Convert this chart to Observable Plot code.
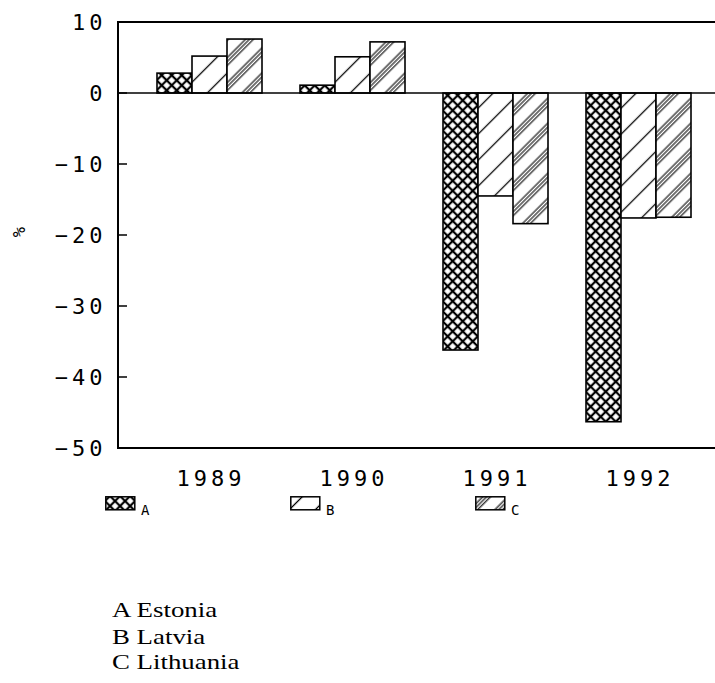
<!DOCTYPE html>
<html><head><meta charset="utf-8">
<script src="https://cdn.jsdelivr.net/npm/d3@7"></script>
<script src="https://cdn.jsdelivr.net/npm/@observablehq/plot@0.6"></script>
<style>
html,body{margin:0;padding:0;background:#fff;}
#wrap{position:relative;width:715px;height:683px;overflow:hidden;background:#fff;}
#chart{position:absolute;left:0;top:0;}
.ylab{position:absolute;left:9px;top:222px;font:17px "DejaVu Sans Mono",monospace;transform:rotate(-90deg);transform-origin:center;width:20px;text-align:center;}
.leg{position:absolute;top:496px;height:24px;}
.leg svg{position:absolute;left:0;top:0;}
.leg span{position:absolute;left:36px;top:6px;font:14px "DejaVu Sans Mono",monospace;}
.note{position:absolute;left:112px;font:22px "Liberation Serif","Times New Roman",serif;transform:scaleX(1.22);transform-origin:left;white-space:nowrap;line-height:1;}
</style></head><body>
<svg width="0" height="0" style="position:absolute">
<defs>
<pattern id="patA" patternUnits="userSpaceOnUse" width="7.1" height="7.1" patternTransform="rotate(45)">
<rect width="7.1" height="7.1" fill="#fff"/>
<path d="M3.55,0V7.1M0,3.55H7.1" stroke="#000" stroke-width="2.2"/>
</pattern>
<pattern id="patB" patternUnits="userSpaceOnUse" width="18.4" height="18.4" patternTransform="rotate(45)">
<rect width="18.4" height="18.4" fill="#fff"/>
<path d="M9.2,0V18.4" stroke="#000" stroke-width="1.3"/>
</pattern>
<pattern id="patC" patternUnits="userSpaceOnUse" width="17.7" height="17.7" patternTransform="rotate(45)">
<rect width="17.7" height="17.7" fill="#fff"/>
<path d="M6,0V17.7M8.8,0V17.7M11.6,0V17.7" stroke="#000" stroke-width="1.1"/>
</pattern>
</defs>
</svg>
<div id="wrap">
<div id="chart"></div>
<div class="ylab">%</div>
<div id="legend"></div>
<div id="notes"></div>
</div>
<script>
const years = ["1989", "1990", "1991", "1992"];
const countries = ["A", "B", "C"];
const countryNames = ["Estonia", "Latvia", "Lithuania"];
const estonia = [2.8, 1.1, -36.2, -46.3];
const latvia = [5.2, 5.1, -14.5, -17.6];
const lithuania = [7.6, 7.2, -18.4, -17.5];
const yTicks = [10, 0, -10, -20, -30, -40, -50];
const patterns = ["url(#patA)", "url(#patB)", "url(#patC)"];

const seriesValues = [estonia, latvia, lithuania];
const data = [];
years.forEach((yr, i) => countries.forEach((c, j) => data.push({year: yr, country: c, value: seriesValues[j][i]})));

const plot = Plot.plot({
  width: 715,
  height: 490,
  marginLeft: 118,
  marginRight: 23.7,
  marginTop: 22,
  marginBottom: 42,
  style: {fontFamily: "DejaVu Sans Mono", fontSize: "22px", letterSpacing: "4px", color: "#000", background: "#fff", overflow: "visible"},
  fx: {domain: years, padding: 0, label: null},
  x: {domain: countries, paddingInner: 0, paddingOuter: 0.5, align: 1, axis: null},
  y: {domain: [-50, 10], axis: null},
  color: {type: "ordinal", domain: countries, range: patterns},
  marks: [
    Plot.barY(data, {fx: "year", x: "country", y: "value", fill: "country", stroke: "#000", strokeWidth: 1.6}),
    Plot.axisFx({anchor: "bottom", tickSize: 0, tickPadding: 22, dx: 20, fontSize: 22, label: null}),
    Plot.axisY(yTicks, {tickSize: 0, tickPadding: 13, fontSize: 22, label: null})
  ]
});
document.getElementById("chart").appendChild(plot);

// frame lines and inward ticks, positioned through the plot's y scale
const ys = plot.scale("y");
const g = d3.select(plot).append("g").attr("stroke", "#000");
[[10, 2], [0, 1.5], [-50, 2]].forEach(([v, w]) => {
  g.append("line").attr("x1", 117).attr("x2", 715)
    .attr("y1", ys.apply(v)).attr("y2", ys.apply(v)).attr("stroke-width", w);
});
g.append("line").attr("x1", 118).attr("x2", 118)
  .attr("y1", ys.apply(10)).attr("y2", ys.apply(-50)).attr("stroke-width", 2);
yTicks.forEach(v => {
  g.append("line").attr("x1", 118).attr("x2", 127)
    .attr("y1", ys.apply(v)).attr("y2", ys.apply(v)).attr("stroke-width", 1.5);
});

// legend
const legX = [105, 290, 475];
const legend = document.getElementById("legend");
countries.forEach((c, i) => {
  const d = document.createElement("div");
  d.className = "leg";
  d.style.left = legX[i] + "px";
  d.innerHTML = `<svg width="32" height="16"><rect x="0.8" y="0.8" width="29" height="13" fill="${patterns[i]}" stroke="#000" stroke-width="1.5"/></svg><span>${c}</span>`;
  legend.appendChild(d);
});

// notes
const notes = document.getElementById("notes");
const baseTops = [599, 626, 651];
countries.forEach((c, i) => {
  const d = document.createElement("div");
  d.className = "note";
  d.style.top = baseTops[i] + "px";
  d.textContent = c + " " + countryNames[i];
  notes.appendChild(d);
});
</script>
</body></html>
